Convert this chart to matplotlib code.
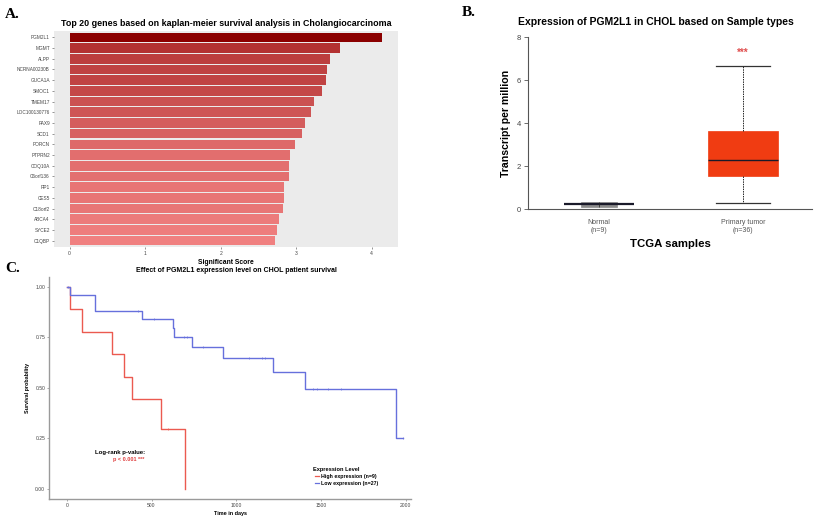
import matplotlib
matplotlib.use("Agg")
import matplotlib.pyplot as plt
import numpy as np
from matplotlib.colors import LinearSegmentedColormap, Normalize

plt.rcParams['font.family'] = ['Liberation Sans', 'DejaVu Sans']

# ---------------- Data ----------------
genes = ["PGM2L1", "MGMT", "ALPP", "NCRNA00230B", "GUCA1A", "SMOC1", "TMEM17",
         "LOC100130776", "PAX9", "SCD1", "PORCN", "PTPRN2", "COQ10A", "C6orf136",
         "RP1", "CES5", "C18orf2", "ABCA4", "SYCE2", "C1QBP"]
scores = [4.14, 3.58, 3.45, 3.41, 3.40, 3.34, 3.24, 3.20, 3.11, 3.07,
          2.98, 2.92, 2.91, 2.90, 2.84, 2.84, 2.83, 2.77, 2.75, 2.72]
score_ticks = [0, 1, 2, 3, 4]

box_groups = ["Normal\n(n=9)", "Primary tumor\n(n=36)"]
box_whislo = [0.09, 0.30]
box_q1 = [0.09, 1.55]
box_med = [0.23, 2.28]
box_q3 = [0.33, 3.65]
box_whishi = [0.33, 6.65]
tpm_ticks = [0, 2, 4, 6, 8]

high_t = [0, 20, 92, 269, 338, 387, 554, 700]
high_s = [1.0, 0.889, 0.778, 0.667, 0.556, 0.444, 0.296, 0.0]
high_cens_t = [600]
high_cens_s = [0.296]

low_t = [0, 20, 167, 442, 625, 635, 737, 924, 1219, 1406, 1941, 1982]
low_s = [1.0, 0.961, 0.882, 0.839, 0.794, 0.750, 0.700, 0.646, 0.576, 0.492, 0.250, 0.250]
low_cens_t = [10, 419, 517, 690, 708, 806, 1077, 1150, 1170, 1455, 1475, 1543, 1617, 1982]
low_cens_s = [1.0, 0.882, 0.839, 0.750, 0.750, 0.700, 0.646, 0.646, 0.646, 0.492, 0.492, 0.492, 0.492, 0.250]
time_ticks = [0, 500, 1000, 1500, 2000]
surv_ticks = [0.0, 0.25, 0.5, 0.75, 1.0]

# ---------------- Figure ----------------
W, H = 818, 517
fig = plt.figure(figsize=(W / 100, H / 100), dpi=100)
fig.patch.set_facecolor("white")

def ax_px(l, t, r, b):
    return fig.add_axes([l / W, 1 - b / H, (r - l) / W, (b - t) / H])

serif = ['Liberation Serif', 'DejaVu Serif']
fig.text(5 / W, 1 - 14 / H, "A.", fontsize=11, fontweight="bold", family=serif, va="center")
fig.text(462 / W, 1 - 13 / H, "B.", fontsize=11, fontweight="bold", family=serif, va="center")
fig.text(5 / W, 1 - 269 / H, "C.", fontsize=11, fontweight="bold", family=serif, va="center")

# ---------------- Panel A ----------------
axA = ax_px(54, 31, 398, 247)
axA.set_facecolor("#EBEBEB")
cmap = LinearSegmentedColormap.from_list("rc", ["#F08080", "#8B0000"])
norm = Normalize(vmin=min(scores), vmax=max(scores))
ypos = np.arange(len(genes))[::-1]
axA.barh(ypos, scores, height=0.9, color=[cmap(norm(s)) for s in scores], zorder=2)
smax = max(scores)
axA.set_xlim(-0.05 * smax, 1.05 * smax)
axA.set_ylim(-0.6, len(genes) - 0.4)
axA.set_yticks(ypos)
axA.set_yticklabels(genes, fontsize=3.4, color="#444444")
axA.set_xticks(score_ticks)
axA.set_xticklabels([str(t) for t in score_ticks], fontsize=3.6, color="#444444")
axA.tick_params(length=1.5, width=0.4, color="#444444", pad=1.5)
for s in axA.spines.values():
    s.set_visible(False)
axA.set_xlabel("Significant Score", fontsize=4.9, fontweight="bold", labelpad=2)
fig.text(226 / W, 1 - 24 / H,
         "Top 20 genes based on kaplan-meier survival analysis in Cholangiocarcinoma",
         fontsize=6.4, fontweight="bold", ha="center", va="center")

# ---------------- Panel B ----------------
axB = ax_px(528, 37.3, 812, 209.3)
pos = [1, 2]
box_w = [0.245, 0.49]
box_colors = ["#8C8C8C", "#F03C12"]
for i in range(2):
    st = dict(med=box_med[i], q1=box_q1[i], q3=box_q3[i],
              whislo=box_whislo[i], whishi=box_whishi[i], fliers=[])
    bp = axB.bxp([st], positions=[pos[i]], widths=box_w[i], patch_artist=True,
                 showfliers=False, showcaps=(i == 1),
                 boxprops=dict(facecolor=box_colors[i], edgecolor=box_colors[i], lw=0.5),
                 whiskerprops=dict(color="#222222", lw=0.7, linestyle=(0, (1.5, 1.0))),
                 capprops=dict(color="#333333", lw=0.9),
                 medianprops=dict(color="#1a1a2a", lw=1.0 if i == 1 else 1.6))
    for c in bp["caps"]:
        c.set_xdata([pos[i] - 0.19, pos[i] + 0.19])
    for m in bp["medians"]:
        m.set_xdata([pos[i] - 0.245, pos[i] + 0.245])
axB.vlines(pos[0], box_q1[0], box_q3[0], color="#222222", lw=0.5, zorder=6)
axB.text(pos[1], 7.3, "***", color="#E05050", fontsize=7, ha="center", va="center", fontweight="bold")
axB.set_xlim(0.506, 2.48)
axB.set_ylim(0, 8)
axB.set_yticks(tpm_ticks)
axB.set_yticklabels([str(t) for t in tpm_ticks], fontsize=5.5, color="#444444")
axB.set_xticks(pos)
axB.set_xticklabels(box_groups, fontsize=5, color="#555555", linespacing=1.1)
axB.tick_params(axis="y", length=3, width=0.6, color="#555555", pad=2)
axB.tick_params(axis="x", length=0, pad=7)
axB.spines["top"].set_visible(False)
axB.spines["right"].set_visible(False)
axB.spines["left"].set_bounds(0, 8)
for k in ("left", "bottom"):
    axB.spines[k].set_color("#555555")
    axB.spines[k].set_linewidth(0.8)
axB.set_ylabel("Transcript per million", fontsize=7.6, fontweight="bold", labelpad=4)
axB.set_xlabel("TCGA samples", fontsize=8.2, fontweight="bold", labelpad=4)
fig.text(656 / W, 1 - 22 / H, "Expression of PGM2L1 in CHOL based on Sample types",
         fontsize=7.5, fontweight="bold", ha="center", va="center")

# ---------------- Panel C ----------------
axC = ax_px(49.3, 276.7, 411, 499)
red = "#EB5A50"
blue = "#6670DC"
axC.step(high_t, high_s, where="post", color=red, lw=1.0)
axC.step(low_t, low_s, where="post", color=blue, lw=1.0)
axC.plot(high_cens_t, high_cens_s, ls="none", marker="|", ms=2, mew=0.5, color=red)
axC.plot(low_cens_t, low_cens_s, ls="none", marker="|", ms=2, mew=0.5, color=blue)
axC.set_xlim(-103, 2031)
axC.set_ylim(-0.05, 1.05)
axC.set_xticks(time_ticks)
axC.set_xticklabels([str(t) for t in time_ticks], fontsize=3.6, color="#444444")
axC.set_yticks(surv_ticks)
axC.set_yticklabels(["%.2f" % v for v in surv_ticks], fontsize=3.6, color="#444444")
axC.tick_params(length=1.5, width=0.5, color="#888888", pad=1.5)
axC.spines["top"].set_visible(False)
axC.spines["right"].set_visible(False)
for k in ("left", "bottom"):
    axC.spines[k].set_color("#9A9A9A")
    axC.spines[k].set_linewidth(1.0)
axC.set_xlabel("Time in days", fontsize=4.0, fontweight="bold", labelpad=2)
axC.set_ylabel("Survival probability", fontsize=3.9, fontweight="bold", labelpad=3.5)
fig.text(236 / W, 1 - 270 / H, "Effect of PGM2L1 expression level on CHOL patient survival",
         fontsize=5.05, fontweight="bold", ha="center", va="center")
fig.text(95 / W, 1 - 452.5 / H, "Log-rank p-value:", fontsize=4.3, fontweight="bold",
         ha="left", va="center")
fig.text(113 / W, 1 - 459.5 / H, "p < 0.001 ***", fontsize=4.0, fontweight="bold",
         color="#E04040", ha="left", va="center")

# legend
fig.text(313 / W, 1 - 469.5 / H, "Expression Level", fontsize=4.1, fontweight="bold",
         ha="left", va="center")
leg_labels = ["High expression (n=9)", "Low expression (n=27)"]
leg_colors = [red, blue]
for i, (lab, col) in enumerate(zip(leg_labels, leg_colors)):
    yy = 1 - (476.3 + i * 7.0) / H
    fig.add_artist(plt.Line2D([315 / W, 319 / W], [yy, yy], color=col, lw=0.9,
                              transform=fig.transFigure))
    fig.text(321 / W, yy, lab, fontsize=3.8, fontweight="bold", ha="left", va="center")

fig.savefig("out.png", dpi=100, facecolor="white")
